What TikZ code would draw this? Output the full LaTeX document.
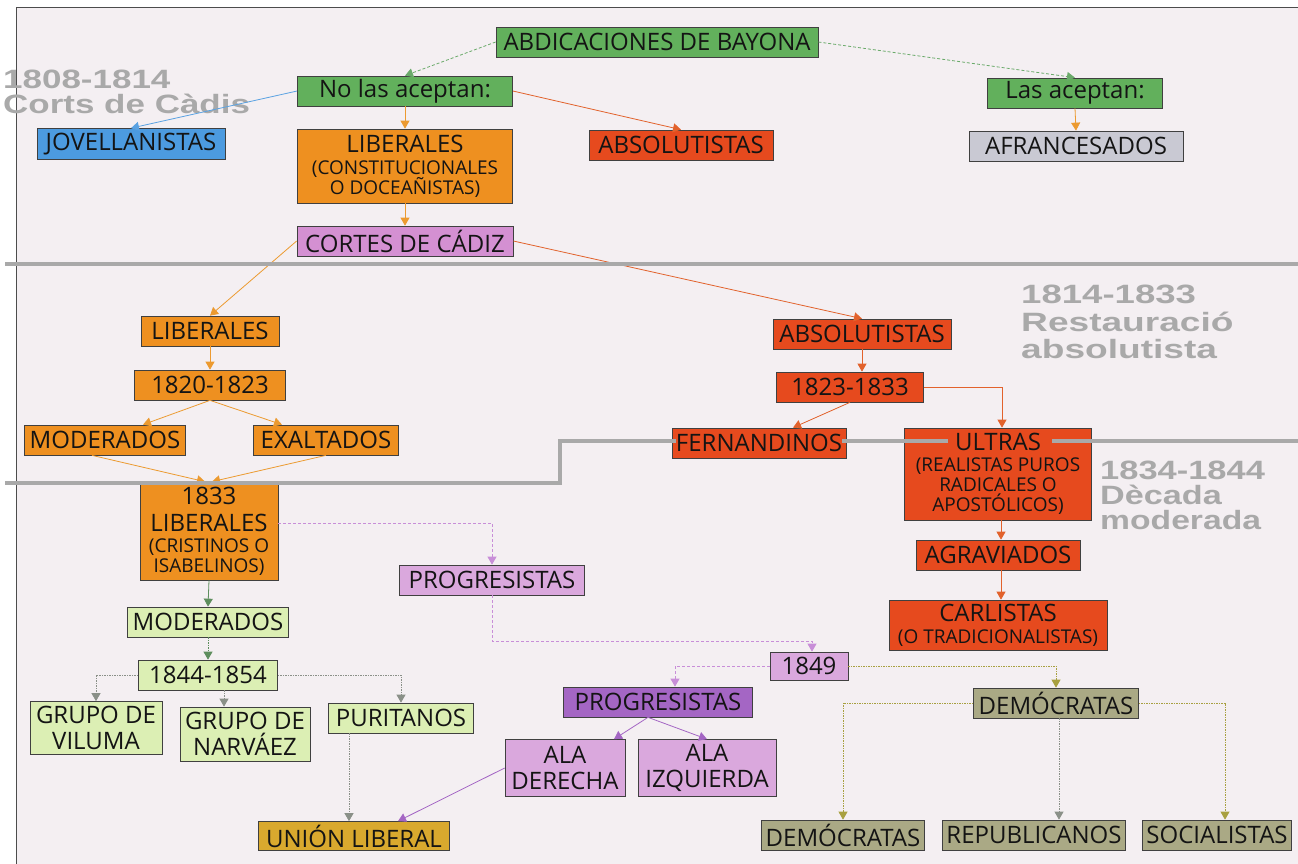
\documentclass[tikz,border=0pt]{standalone}
\usepackage{fontspec}
\setmainfont{Open Sans}
\newfontfamily\lblfont{Liberation Sans}
\usetikzlibrary{arrows.meta,calc}
\definecolor{bg}{HTML}{F4EFF2}
\definecolor{cgreen}{HTML}{62B05C}
\definecolor{cblue}{HTML}{4C9BE0}
\definecolor{corange}{HTML}{EE9020}
\definecolor{cred}{HTML}{E64A1E}
\definecolor{cgray}{HTML}{C9C9D3}
\definecolor{cpink}{HTML}{D490D2}
\definecolor{clpink}{HTML}{DAA8DD}
\definecolor{cpurple}{HTML}{A466C4}
\definecolor{clgreen}{HTML}{DCEFB4}
\definecolor{cgold}{HTML}{D9A92E}
\definecolor{colive}{HTML}{AAA985}
\definecolor{perline}{HTML}{A9A9A9}
\definecolor{lorange}{HTML}{EC9A30}
\definecolor{lred}{HTML}{E2622C}
\definecolor{lblue}{HTML}{5AA2E2}
\definecolor{lgreen}{HTML}{6AAA6A}
\definecolor{lpink}{HTML}{C88ED8}
\definecolor{lolive}{HTML}{A8A040}
\definecolor{ldgreen}{HTML}{5E8E5E}
\definecolor{lgray}{HTML}{8A9088}
\begin{document}
\begin{tikzpicture}[x=1pt,y=-1pt,
  box/.style={draw=black!75, line width=0.7pt, inner sep=0pt, align=center,
    font=\fontsize{24}{27}\selectfont, text=black!92},
  conn/.style={-{Triangle[length=8pt,width=9pt]}, line width=0.8pt},
  dsh/.style={dash pattern=on 3pt off 2pt},
  dtt/.style={dash pattern=on 1.5pt off 1pt},
  per/.style={font=\lblfont\bfseries\fontsize{26.5}{28}\selectfont, text=perline, anchor=base west, inner sep=0pt},
  pline/.style={draw=perline, line width=4pt}]
\newcommand{\smf}{\fontsize{19}{21}\selectfont}
\useasboundingbox (0,0) rectangle (1298,864);
\fill[white] (0,0) rectangle (1298,864);
\fill[bg] (16,8) rectangle (1298,864);
\draw[black!70, line width=1pt] (16,864) -- (16,8) -- (1298,8);

% period labels
\node[per] (p1a) at (3,89) {\scalebox{1.32}[1]{1808-1814}};
\node[per] (p1b) at (3,114) {\scalebox{1.32}[1]{Corts de Càdis}};
\node[per] (p2a) at (1021,303) {\scalebox{1.38}[1]{1814-1833}};
\node[per] (p2b) at (1021,331) {\scalebox{1.40}[1]{Restauració}};
\node[per] (p2c) at (1021,358) {\scalebox{1.40}[1]{absolutista}};
\node[per] (p3a) at (1100,479) {\scalebox{1.30}[1]{1834-1844}};
\node[per] (p3b) at (1100,504) {\scalebox{1.29}[1]{Dècada}};
\node[per] (p3c) at (1100,529) {\scalebox{1.27}[1]{moderada}};

% nodes
\node[box, fill=cgreen, minimum width=322, minimum height=30] (abd) at (657,42) {ABDICACIONES DE BAYONA};
\node[box, fill=cgreen, minimum width=215, minimum height=30] (nolas) at (405,91) {No las aceptan:};
\node[box, fill=cgreen, minimum width=175, minimum height=30] (lasac) at (1075,93) {Las aceptan:};
\node[box, fill=cblue, minimum width=188, minimum height=31] (jov) at (131,144) {JOVELLANISTAS};
\node[box, fill=corange, minimum width=215, minimum height=74] (lib1) at (405,166) {LIBERALES\\[-5pt]{\smf (CONSTITUCIONALES}\\[-7pt]{\smf O DOCEAÑISTAS)}};
\node[box, fill=cred, minimum width=184, minimum height=30] (abs1) at (681,145) {ABSOLUTISTAS};
\node[box, fill=cgray, minimum width=214, minimum height=30] (afr) at (1076,146) {AFRANCESADOS};
\node[box, fill=cpink, minimum width=216, minimum height=30] (cortes) at (405,241) {CORTES DE CÁDIZ};
\node[box, fill=corange, minimum width=138, minimum height=30] (lib2) at (210,331) {LIBERALES};
\node[box, fill=cred, minimum width=178, minimum height=30] (abs2) at (862,334) {ABSOLUTISTAS};
\node[box, fill=corange, minimum width=151, minimum height=30] (y1820) at (210,385) {1820-1823};
\node[box, fill=cred, minimum width=147, minimum height=30] (y1823) at (850,387) {1823-1833};
\node[box, fill=corange, minimum width=161, minimum height=30] (mod1) at (105,440) {MODERADOS};
\node[box, fill=corange, minimum width=145, minimum height=30] (exa) at (326,440) {EXALTADOS};
\node[box, fill=cred, minimum width=174, minimum height=30] (fern) at (759,443) {FERNANDINOS};
\node[box, fill=cred, minimum width=187, minimum height=92] (ultras) at (998,474) {ULTRAS\\[-6pt]{\smf (REALISTAS PUROS}\\[-7pt]{\smf RADICALES O}\\[-7pt]{\smf APOSTÓLICOS)}};
\node[box, fill=corange, minimum width=138, minimum height=98] (lib33) at (209,531) {1833\\[0pt]LIBERALES\\[-6pt]{\smf (CRISTINOS O}\\[-7pt]{\smf ISABELINOS)}};
\node[box, fill=clpink, minimum width=185, minimum height=30] (prog1) at (492,580) {PROGRESISTAS};
\node[box, fill=cred, minimum width=164, minimum height=30] (agr) at (998,555) {AGRAVIADOS};
\node[box, fill=clgreen, minimum width=161, minimum height=30] (mod2) at (208,622) {MODERADOS};
\node[box, fill=cred, minimum width=218, minimum height=50] (carl) at (998,625) {CARLISTAS\\[-5pt]{\smf (O TRADICIONALISTAS)}};
\node[box, fill=clpink, minimum width=78, minimum height=28] (y1849) at (809,666) {1849};
\node[box, fill=clgreen, minimum width=139, minimum height=30] (y1844) at (208,675) {1844-1854};
\node[box, fill=cpurple, minimum width=189, minimum height=30] (prog2) at (658,702) {PROGRESISTAS};
\node[box, fill=colive, minimum width=165, minimum height=30] (dem) at (1056,703) {DEMÓCRATAS};
\node[box, fill=clgreen, minimum width=132, minimum height=53] (vil) at (96,728) {GRUPO DE\\[-1pt]VILUMA};
\node[box, fill=clgreen, minimum width=130, minimum height=54] (nar) at (245,734) {GRUPO DE\\[-1pt]NARVÁEZ};
\node[box, fill=clgreen, minimum width=145, minimum height=30] (pur) at (401,718) {PURITANOS};
\node[box, fill=clpink, minimum width=120, minimum height=57] (alad) at (565,768) {ALA\\[-1pt]DERECHA};
\node[box, fill=clpink, minimum width=138, minimum height=57] (alai) at (707,768) {ALA\\[-1pt]IZQUIERDA};
\node[box, fill=cgold, minimum width=191, minimum height=29] (union) at (354,836) {UNIÓN LIBERAL};
\node[box, fill=colive, minimum width=163, minimum height=30] (dem2) at (843,835) {DEMÓCRATAS};
\node[box, fill=colive, minimum width=183, minimum height=30] (rep) at (1034,835) {REPUBLICANOS};
\node[box, fill=colive, minimum width=149, minimum height=30] (soc) at (1217,835) {SOCIALISTAS};

% connectors
\draw[conn, lgreen, dsh] (abd.west) -- (nolas.north);
\draw[conn, lgreen, dsh] (abd.east) -- (lasac.north);
\draw[conn, lblue] (nolas.west) -- (jov.north);
\draw[conn, lorange] (nolas.south) -- (lib1.north);
\draw[conn, lred] (nolas.east) -- (abs1.north);
\draw[conn, lorange] (lasac.south) -- (afr.north);
\draw[conn, lorange] (lib1.south) -- (cortes.north);
\draw[conn, lorange] (cortes.west) -- (lib2.north);
\draw[conn, lred] (cortes.east) -- (abs2.north);
\draw[conn, lorange] (lib2.south) -- (y1820.north);
\draw[conn, lorange] (y1820.south) -- ($(mod1.north)+(38,0)$);
\draw[conn, lorange] (y1820.south) -- ($(exa.north)+(-44,0)$);
\draw[conn, lorange] ($(mod1.south)+(-13,0)$) -- ($(lib33.north)+(-4,0)$);
\draw[conn, lorange] (exa.south) -- ($(lib33.north)+(3,0)$);
\draw[conn, lred] (abs2.south) -- (abs2.south |- y1823.north);
\draw[conn, lred] (y1823.south) -- ($(fern.north)+(34,0)$);
\draw[conn, lred] (y1823.east) -| ($(ultras.north)+(4,0)$);
\draw[conn, lred] ($(ultras.south)+(3,0)$) -- ($(agr.north)+(3,0)$);
\draw[conn, lred] ($(agr.south)+(3,0)$) -- ($(carl.north)+(3,0)$);
\draw[conn, lpink, dsh] ($(lib33.east)+(0,-8)$) -| (prog1.north);
\draw[conn, ldgreen] (lib33.south) -- (mod2.north);
\draw[conn, lpink, dsh] (prog1.south) -- ++(0,46) -| ($(y1849.north)+(3,0)$);
\draw[conn, ldgreen, dtt] (mod2.south) -- (y1844.north);
\draw[conn, lgray, dtt] (y1844.west) -| (vil.north);
\draw[conn, lgray, dtt] ($(y1844.south)+(16,0)$) -- ($(nar.north)+(-21,0)$);
\draw[conn, lgray, dtt] (y1844.east) -| (pur.north);
\draw[conn, lpink, dsh] (y1849.west) -| ($(prog2.north)+(17,0)$);
\draw[conn, lolive, dtt] (y1849.east) -| (dem.north);
\draw[conn, cpurple] ($(prog2.south)+(-10,0)$) -- ($(alad.north)+(49,0)$);
\draw[conn, cpurple] ($(prog2.south)+(-10,0)$) -- (alai.north);
\draw[conn, cpurple] (alad.west) -- ($(union.north)+(44,0)$);
\draw[conn, lgray, dtt] ($(pur.south)+(-52,0)$) -- ($(union.north)+(-5,0)$);
\draw[conn, lolive, dtt] (dem.west) -| (dem2.north);
\coordinate (dr) at ($(dem.south)+(3,0)$);
\draw[conn, lgray, dtt] (dr) -- (dr |- rep.north);
\draw[conn, lolive, dtt] (dem.east) -| ($(soc.north)+(8,0)$);

% period dividing lines
\draw[pline] (5,264) -- (1298,264);
\draw[pline] (5,483) -- (560,483) -- (560,441) -- (676,441);
\draw[pline] (842,441) -- (948,441);
\draw[pline] (1052,441) -- (1298,441);
\end{tikzpicture}
\end{document}
